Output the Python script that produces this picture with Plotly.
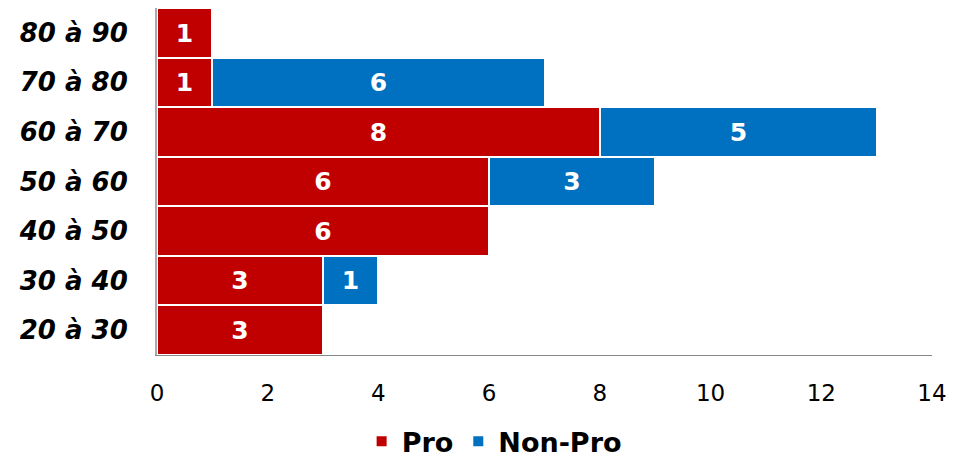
import plotly.graph_objects as go

categories = ["20 à 30", "30 à 40", "40 à 50", "50 à 60", "60 à 70", "70 à 80", "80 à 90"]
pro = [3, 3, 6, 6, 8, 1, 1]
non_pro = [None, 1, None, 3, 5, 6, None]

bar_font = dict(color="white", size=25, family="DejaVu Sans", weight="bold")

fig = go.Figure()

fig.add_trace(go.Bar(
    y=categories, x=pro, name="Pro", orientation="h",
    marker=dict(color="#C00000", line=dict(color="white", width=2)),
    text=pro, textposition="inside", insidetextanchor="middle", textangle=0,
    textfont=bar_font,
))
fig.add_trace(go.Bar(
    y=categories, x=non_pro, name="Non-Pro", orientation="h",
    marker=dict(color="#0070C0", line=dict(color="white", width=2)),
    text=non_pro, textposition="inside", insidetextanchor="middle", textangle=0,
    textfont=bar_font,
))

# the page body adds an 8px margin, so the figure is a little smaller than the window
fig.update_layout(
    barmode="stack",
    bargap=0,
    width=957, height=454,
    margin=dict(l=149, r=33, t=0, b=107, autoexpand=False),
    plot_bgcolor="white", paper_bgcolor="white",
    font=dict(family="DejaVu Sans", color="black"),
    showlegend=True,
    legend=dict(orientation="h", x=0.435, xanchor="center", y=-0.25, yanchor="middle",
                font=dict(size=27, weight="bold"), traceorder="normal",
                tracegroupgap=0, itemwidth=30),
)
fig.update_xaxes(range=[0, 14], dtick=2, showgrid=False, zeroline=False, automargin=False,
                 showline=True, linecolor="#888888", linewidth=1,
                 tickfont=dict(size=23), ticks="outside", ticklen=17, tickcolor="white")
fig.update_yaxes(showgrid=False, showline=True, linecolor="#aaaaaa", linewidth=2, automargin=False,
                 tickfont=dict(size=26, weight="bold", style="italic"),
                 ticks="outside", ticklen=22, tickcolor="white")

fig.write_html("out.html")
